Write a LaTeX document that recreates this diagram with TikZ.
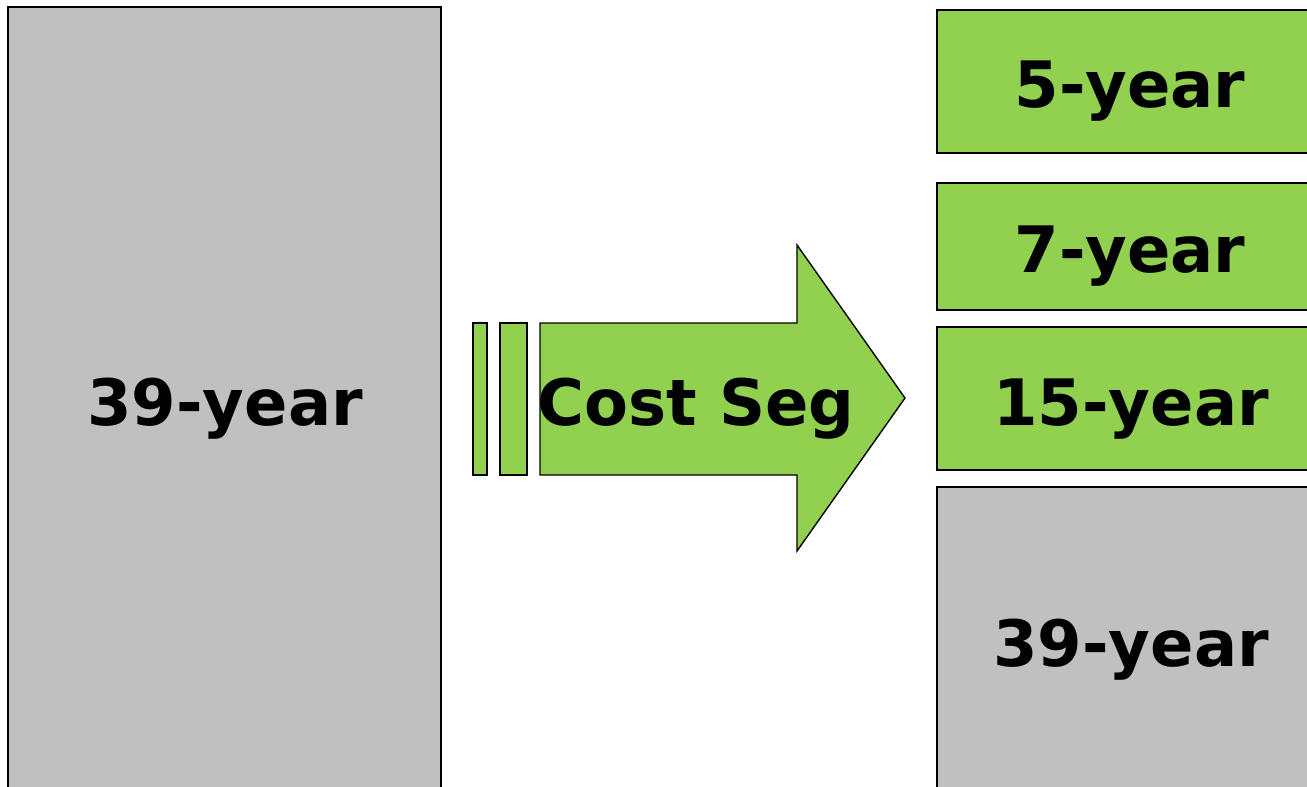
\documentclass[tikz,border=0pt]{standalone}
\usepackage{fontspec}
\setmainfont{DejaVu Sans}
\definecolor{boxgray}{HTML}{C0C0C0}
\definecolor{boxgreen}{HTML}{92D050}
\begin{document}
\begin{tikzpicture}[x=1pt,y=-1pt,
  blk/.style={draw=black,line width=1.8pt},
  lbl/.style={font=\fontsize{64}{72}\selectfont\bfseries,text=black,anchor=base,inner sep=0pt}]
\useasboundingbox (0,0) rectangle (1307,787);
\clip (0,0) rectangle (1307,787);
% left column
\draw[blk,fill=boxgray] (8,7) rectangle (441,820);
\node[lbl] (left) at (225,425) {39-year};
% arrow bars
\draw[blk,fill=boxgreen,line width=1.4pt] (473,323) rectangle (487,475);
\draw[blk,fill=boxgreen,line width=1.4pt] (500,323) rectangle (527,475);
\draw[blk,fill=boxgreen,line width=1.4pt] (540,323) -- (797,323) -- (797,245) -- (905,398) -- (797,551) -- (797,475) -- (540,475) -- cycle;
\node[lbl] (seg) at (696,425) {Cost Seg};
% right column
\draw[blk,fill=boxgreen] (937,10) rectangle (1330,153);
\node[lbl] (five) at (1130,107) {5-year};
\draw[blk,fill=boxgreen] (937,183) rectangle (1330,310);
\node[lbl] (seven) at (1130,272) {7-year};
\draw[blk,fill=boxgreen] (937,327) rectangle (1330,470);
\node[lbl] (fifteen) at (1131,425) {15-year};
\draw[blk,fill=boxgray] (937,487) rectangle (1330,820);
\node[lbl] (right) at (1131,666) {39-year};
\end{tikzpicture}
\end{document}
